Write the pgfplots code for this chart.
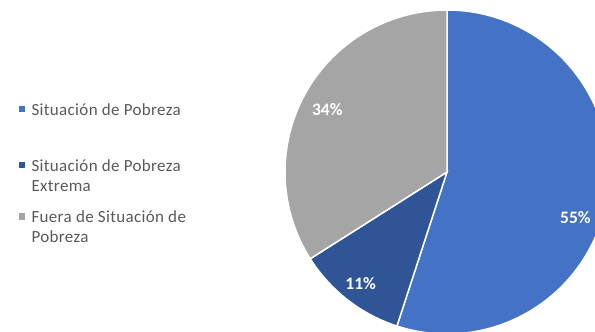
\documentclass[border=0pt]{standalone}
\usepackage{pgfplots}
\pgfplotsset{compat=1.18}
\usepackage{fontspec}
\setmainfont{Carlito}
\definecolor{cA}{HTML}{4472C4}
\definecolor{cB}{HTML}{2F5597}
\definecolor{cC}{HTML}{A5A5A5}
\definecolor{legtxt}{HTML}{595959}
\begin{document}
\begin{tikzpicture}
\useasboundingbox (0,0) rectangle (595pt,332pt);
% shares (percent)
\def\vA{55}\def\vB{11}\def\vC{34}
\pgfmathsetmacro\aA{90}
\pgfmathsetmacro\aB{90-3.6*\vA}
\pgfmathsetmacro\aC{\aB-3.6*\vB}
\pgfmathsetmacro\aD{\aC-3.6*\vC}
\begin{axis}[
  at={(447pt,160pt)}, anchor=origin,
  x=162pt, y=162pt,
  xmin=-1, xmax=1, ymin=-1, ymax=1,
  hide axis, clip=false,
  legend cell align=left,
  legend image code/.code={\fill[#1] (0pt,-4pt) rectangle (8pt,4pt);},
  legend style={at={(axis description cs:-0.827,0.787)}, anchor=north west,
    draw=none, fill=none, inner sep=0pt, outer sep=0pt,
    font=\fontsize{17}{20}\selectfont\addfontfeature{LetterSpace=2}, text=legtxt,
    row sep=0pt, column sep=0pt,
    nodes={inner sep=0pt, outer sep=0pt}},
]
\addplot[fill=cA, draw=white, line width=1.5pt, domain=\aB:\aA, samples=100, variable=\t]
  ({cos(\t)},{sin(\t)}) -- (axis cs:0,0) -- cycle;
\addlegendentry[text height=36pt, text depth=24pt]{\hspace{5pt}\parbox[t]{175pt}{\raggedright Situación de Pobreza}}
\addplot[fill=cB, draw=white, line width=1.5pt, domain=\aC:\aB, samples=40, variable=\t]
  ({cos(\t)},{sin(\t)}) -- (axis cs:0,0) -- cycle;
\addlegendentry[text height=32pt, text depth=20pt]{\hspace{5pt}\parbox[t]{175pt}{\raggedright Situación de Pobreza\\Extrema}}
\addplot[fill=cC, draw=white, line width=1.5pt, domain=\aD:\aC, samples=80, variable=\t]
  ({cos(\t)},{sin(\t)}) -- (axis cs:0,0) -- cycle;
\addlegendentry[text height=31.7pt, text depth=19.7pt]{\hspace{5pt}\parbox[t]{175pt}{\raggedright Fuera de Situación de\\Pobreza}}
\node[text=white, font=\fontsize{17.5}{20}\selectfont\bfseries] at (axis cs:0.793,-0.284) {55\%};
\node[text=white, font=\fontsize{17.5}{20}\selectfont\bfseries] at (axis cs:-0.533,-0.691) {11\%};
\node[text=white, font=\fontsize{17.5}{20}\selectfont\bfseries] at (axis cs:-0.739,0.383) {34\%};
\end{axis}
\end{tikzpicture}
\end{document}
